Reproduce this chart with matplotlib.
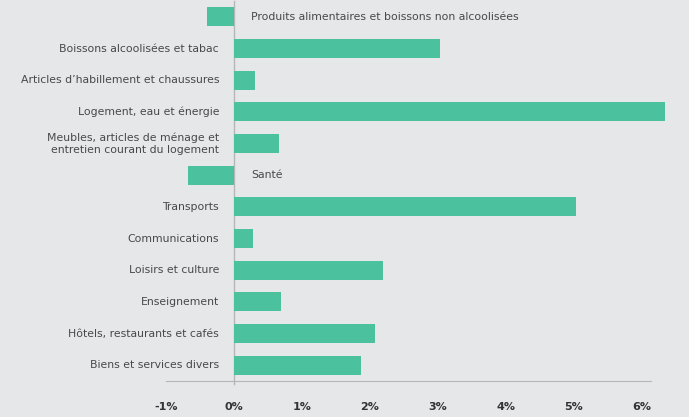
import matplotlib.pyplot as plt

categories = [
    "Produits alimentaires et boissons non alcoolisées",
    "Boissons alcoolisées et tabac",
    "Articles d’habillement et chaussures",
    "Logement, eau et énergie",
    "Meubles, articles de ménage et\nentretien courant du logement",
    "Santé",
    "Transports",
    "Communications",
    "Loisirs et culture",
    "Enseignement",
    "Hôtels, restaurants et cafés",
    "Biens et services divers",
]
values = [-0.40, 3.03, 0.31, 6.34, 0.66, -0.68, 5.03, 0.28, 2.19, 0.69, 2.07, 1.87]
ticks = [-1, 0, 1, 2, 3, 4, 5, 6]
tick_labels = ["-1%", "0%", "1%", "2%", "3%", "4%", "5%", "6%"]

bg = "#e6e7e9"
green = "#4bc29d"

fig = plt.figure(figsize=(6.89, 4.17), dpi=100, facecolor=bg)
W, H = 689, 417
ax = fig.add_axes([166 / W, 1 - 381 / H, (680 - 166) / W, 380 / H], facecolor=bg)

y = range(len(categories))
ax.barh(y, values, height=0.6, color=green, zorder=2)
ax.set_xlim(-1, 6.56)
ax.set_ylim(len(categories) - 0.5, -0.5)

ax.axvline(0, color="#b4b6b9", lw=1, zorder=1, ymin=-0.008, clip_on=False)
for s in ["top", "right", "left"]:
    ax.spines[s].set_visible(False)
ax.spines["bottom"].set_color("#b4b6b9")
ax.spines["bottom"].set_bounds(-1, 6.13)

ax.set_yticks([])
ax.set_xticks(ticks)
ax.set_xticklabels(tick_labels, fontsize=8, fontweight="bold", color="#333333")
ax.tick_params(axis="x", length=0, pad=15)

for i, (c, v) in enumerate(zip(categories, values)):
    if v < 0:
        ax.text(0.25, i, c, ha="left", va="center", fontsize=7.8, color="#484848")
    else:
        ax.text(-0.22, i, c, ha="right", va="center", fontsize=7.8, color="#484848",
                linespacing=1.2)

fig.savefig("out.png", dpi=100, facecolor=bg)
